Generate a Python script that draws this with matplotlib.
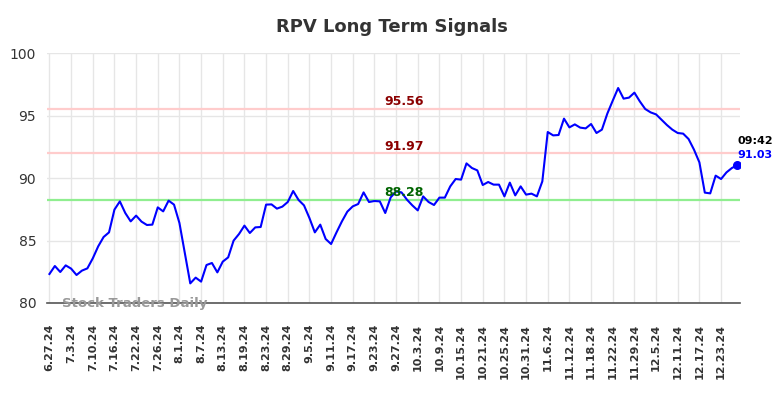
import matplotlib
matplotlib.use("Agg")
import matplotlib.pyplot as plt

title = "RPV Long Term Signals"
tick_labels = ["6.27.24", "7.3.24", "7.10.24", "7.16.24", "7.22.24", "7.26.24", "8.1.24", "8.7.24",
               "8.13.24", "8.19.24", "8.23.24", "8.29.24", "9.5.24", "9.11.24", "9.17.24", "9.23.24",
               "9.27.24", "10.3.24", "10.9.24", "10.15.24", "10.21.24", "10.25.24", "10.31.24", "11.6.24",
               "11.12.24", "11.18.24", "11.22.24", "11.29.24", "12.5.24", "12.11.24", "12.17.24", "12.23.24"]
tick_step = 4

prices = [82.32, 82.96, 82.48, 83.01, 82.75, 82.24, 82.59, 82.77, 83.57, 84.53,
          85.28, 85.65, 87.47, 88.13, 87.20, 86.53, 86.99, 86.51, 86.24, 86.27,
          87.65, 87.33, 88.19, 87.87, 86.40, 84.00, 81.57, 82.03, 81.71, 83.04,
          83.20, 82.45, 83.31, 83.65, 84.99, 85.52, 86.19, 85.60, 86.05, 86.08,
          87.87, 87.89, 87.55, 87.71, 88.08, 88.96, 88.24, 87.81, 86.80, 85.65,
          86.27, 85.12, 84.72, 85.65, 86.53, 87.31, 87.73, 87.92, 88.85, 88.08,
          88.16, 88.13, 87.20, 88.45, 88.93, 88.85, 88.27, 87.81, 87.41, 88.53,
          88.08, 87.84, 88.43, 88.43, 89.33, 89.92, 89.87, 91.17, 90.80, 90.61,
          89.44, 89.68, 89.47, 89.47, 88.53, 89.63, 88.61, 89.33, 88.67, 88.75,
          88.53, 89.73, 93.68, 93.41, 93.44, 94.75, 94.05, 94.29, 94.03, 93.97,
          94.32, 93.60, 93.87, 95.15, 96.19, 97.20, 96.35, 96.43, 96.83, 96.13,
          95.52, 95.25, 95.09, 94.67, 94.24, 93.87, 93.60, 93.55, 93.12, 92.27,
          91.25, 88.83, 88.77, 90.19, 89.92, 90.45, 90.80, 91.03]

resistance_levels = [95.56, 91.97]
support_levels = [88.28]
last_time = "09:42"
watermark = "Stock Traders Daily"

fig = plt.figure(figsize=(7.84, 3.98), dpi=100)
ax = fig.add_axes([0.0603, 0.2387, 0.8836, 0.6281])

x = list(range(len(prices)))
for lvl in resistance_levels:
    ax.axhline(lvl, color="#ffcccc", lw=1.6, zorder=1)
for lvl in support_levels:
    ax.axhline(lvl, color="#90ee90", lw=1.6, zorder=1)

ax.plot(x, prices, color="#0000ff", lw=1.5, zorder=3)
ax.scatter([x[-1]], [prices[-1]], color="#0000ff", s=30, zorder=4)

label_x = 65.5
for lvl in resistance_levels:
    ax.text(label_x, lvl + 0.05, f"{lvl:.2f}", color="#8b0000", fontsize=9, fontweight="bold",
            ha="center", va="bottom", zorder=5)
for lvl in support_levels:
    ax.text(label_x, lvl + 0.05, f"{lvl:.2f}", color="#006400", fontsize=9, fontweight="bold",
            ha="center", va="bottom", zorder=5)

ax.text(x[-1], prices[-1] + 1.55, last_time, color="black", fontsize=8, fontweight="bold",
        ha="left", va="bottom")
ax.text(x[-1], prices[-1] + 0.4, f"{prices[-1]:.2f}", color="#0000ff", fontsize=8, fontweight="bold",
        ha="left", va="bottom")

ax.text(2.3, 79.95, watermark, color="#999999", fontsize=9.5, fontweight="bold",
        ha="left", va="center", zorder=6)

ax.set_xlim(-0.4, 127.5)
ax.set_ylim(80, 100)
ax.set_yticks([80, 85, 90, 95, 100])
ax.set_xticks(list(range(0, len(tick_labels) * tick_step, tick_step)))
ax.set_xticklabels(tick_labels, rotation=90, fontsize=8, fontweight="bold", color="#333333")
ax.tick_params(axis="y", labelsize=10, colors="#333333", length=0, pad=8)
ax.tick_params(axis="x", length=0, pad=15)
ax.grid(True, color="#e6e6e6", lw=1)
ax.set_axisbelow(True)
for s in ["top", "right", "left"]:
    ax.spines[s].set_visible(False)
ax.spines["bottom"].set_color("#555555")
ax.spines["bottom"].set_linewidth(1.2)

fig.suptitle(title, x=0.5, y=0.955, fontsize=13, fontweight="bold", color="#333333")

fig.savefig("out.png", dpi=100)
